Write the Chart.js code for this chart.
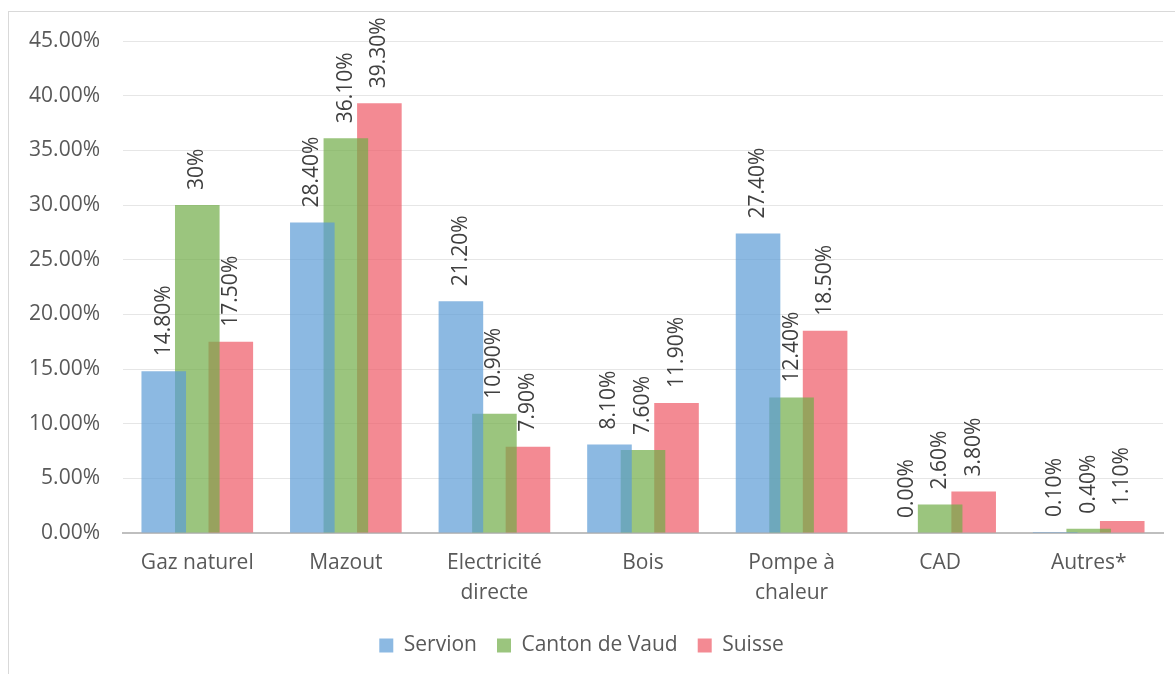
<!DOCTYPE html>
<html>
<head>
<meta charset="utf-8">
<script src="https://cdn.jsdelivr.net/npm/chart.js@4"></script>
<style>
  html, body { margin: 0; padding: 0; background: #fff; }
  #wrap { position: relative; width: 1175px; height: 674px; }
  #frame { position: absolute; left: 8px; top: 11px; width: 1180px; height: 700px; border: 1px solid #d9d9d9; box-sizing: border-box; }
  canvas { position: absolute; left: 0; top: 0; }
</style>
</head>
<body>
<div id="wrap">
  <div id="frame"></div>
  <canvas id="chauffage" width="1175" height="674"></canvas>
</div>
<script>
// Categories (agents energetiques)
const categories = ['Gaz naturel', 'Mazout', ['Electricité', 'directe'], 'Bois', ['Pompe à', 'chaleur'], 'CAD', 'Autres*'];

// Parts en %
const servion = [14.8, 28.4, 21.2, 8.1, 27.4, 0.0, 0.1];
const cantonVaud = [30.0, 36.1, 10.9, 7.6, 12.4, 2.6, 0.4];
const suisse = [17.5, 39.3, 7.9, 11.9, 18.5, 3.8, 1.1];

// Etiquettes telles qu'affichees
const servionLabels = ['14.80%', '28.40%', '21.20%', '8.10%', '27.40%', '0.00%', '0.10%'];
const cantonVaudLabels = ['30%', '36.10%', '10.90%', '7.60%', '12.40%', '2.60%', '0.40%'];
const suisseLabels = ['17.50%', '39.30%', '7.90%', '11.90%', '18.50%', '3.80%', '1.10%'];

const yTicks = [0, 5, 10, 15, 20, 25, 30, 35, 40, 45];

const FONT = "'Open Sans', sans-serif";

// draws the rotated value labels above each bar
const barLabels = {
    id: 'barLabels',
    afterDatasetsDraw(chart) {
        const ctx = chart.ctx;
        chart.data.datasets.forEach((ds, i) => {
            const meta = chart.getDatasetMeta(i);
            meta.data.forEach((bar, j) => {
                ctx.save();
                ctx.translate(bar.x, bar.y - 15);
                ctx.rotate(-Math.PI / 2);
                ctx.font = '21px ' + FONT;
                ctx.fillStyle = '#404040';
                ctx.textAlign = 'left';
                ctx.textBaseline = 'middle';
                ctx.fillText(ds.valueLabels[j], 0, 0);
                ctx.restore();
            });
        });
    }
};

const ctx = document.getElementById('chauffage').getContext('2d');

let chart = new Chart(ctx, {
    type: 'bar',
    data: {
        labels: categories,
        datasets: [{
            label: 'Servion',
            data: servion,
            valueLabels: servionLabels,
            backgroundColor: 'rgba(91, 155, 213, 0.7)'
        }, {
            label: 'Canton de Vaud',
            data: cantonVaud,
            valueLabels: cantonVaudLabels,
            backgroundColor: 'rgba(112, 173, 71, 0.7)'
        }, {
            label: 'Suisse',
            data: suisse,
            valueLabels: suisseLabels,
            backgroundColor: 'rgba(238, 89, 101, 0.7)'
        }]
    },
    options: {
        responsive: false,
        animation: false,
        categoryPercentage: 0.677,
        barPercentage: 1.33,
        layout: {
            padding: { left: 0, right: 12, top: 41, bottom: 8 }
        },
        plugins: {
            tooltip: { enabled: false },
            legend: {
                position: 'bottom',
                labels: {
                    boxWidth: 14,
                    boxHeight: 14,
                    padding: 20,
                    color: '#595959',
                    font: { family: FONT, size: 21 }
                }
            }
        },
        scales: {
            x: {
                grid: { display: false, drawTicks: false },
                border: { display: true, color: '#bfbfbf', width: 2 },
                ticks: {
                    color: '#595959',
                    padding: 15,
                    maxRotation: 0,
                    font: { family: FONT, size: 21, lineHeight: 1.42 }
                },
                afterFit(scale) { scale.height = 82; }
            },
            y: {
                min: 0,
                max: 45,
                afterBuildTicks(scale) { scale.ticks = yTicks.map(v => ({ value: v })); },
                grid: { color: '#e6e6e6', lineWidth: 1, drawTicks: false },
                border: { display: false },
                ticks: {
                    color: '#595959',
                    padding: 23,
                    font: { family: FONT, size: 21 },
                    callback: v => v.toFixed(2) + '%'
                },
                afterFit(scale) { scale.width = 123; }
            }
        }
    },
    plugins: [barLabels]
});
</script>
</body>
</html>
